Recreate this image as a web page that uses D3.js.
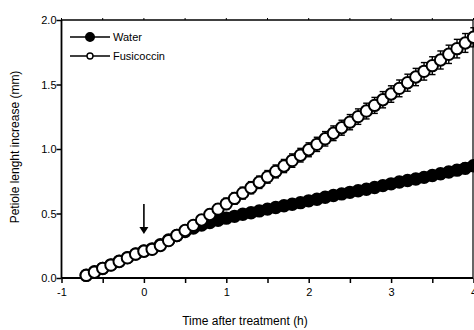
<!DOCTYPE html>
<html>
<head>
<meta charset="utf-8">
<script src="https://cdn.jsdelivr.net/npm/d3@7/dist/d3.min.js"></script>
<style>
  html, body { margin: 0; padding: 0; background: #fff; }
  svg { display: block; font-family: "Liberation Sans", Arial, sans-serif; }
</style>
</head>
<body>
<svg id="chart" width="474" height="330"></svg>
<script>
// Sampling times (minutes relative to treatment)
const timeMin = [-42,-36,-30,-24,-18,-12,-6,0,6,12,18,24,30,36,42,48,54,60,
  66,72,78,84,90,96,102,108,114,120,126,132,138,144,150,156,162,168,174,180,
  186,192,198,204,210,216,222,228,234,240];

// Mean petiole length increase (mm)
const waterMean = [0.022,0.048,0.074,0.102,0.130,0.158,0.186,0.210,0.226,0.258,0.294,0.330,0.360,0.388,0.410,0.430,0.448,0.464,
  0.478,0.494,0.506,0.520,0.534,0.546,0.560,0.572,0.584,0.598,0.610,0.626,0.640,0.652,0.664,0.676,0.688,0.702,0.716,0.730,
  0.744,0.756,0.768,0.780,0.794,0.808,0.822,0.836,0.850,0.870];
const fusiMean = [0.020,0.045,0.075,0.100,0.128,0.156,0.185,0.207,0.222,0.252,0.290,0.330,0.368,0.408,0.450,0.492,0.534,0.575,
  0.617,0.658,0.700,0.742,0.784,0.826,0.868,0.910,0.952,0.994,1.036,1.079,1.122,1.165,1.208,1.251,1.294,1.338,1.382,1.426,
  1.470,1.514,1.558,1.602,1.646,1.690,1.734,1.778,1.822,1.866];

// Standard errors (mm)
const waterErr = [0.008,0.009,0.010,0.011,0.012,0.013,0.014,0.015,0.016,0.017,0.018,0.019,0.020,0.021,0.022,0.023,0.024,0.025,
  0.026,0.026,0.027,0.027,0.028,0.028,0.029,0.029,0.030,0.030,0.031,0.031,0.032,0.032,0.033,0.033,0.034,0.034,0.035,0.035,
  0.036,0.036,0.037,0.037,0.038,0.038,0.039,0.039,0.040,0.040];
const fusiErr = [0.010,0.012,0.014,0.016,0.018,0.020,0.022,0.024,0.026,0.028,0.030,0.032,0.034,0.036,0.038,0.040,0.042,0.044,
  0.045,0.046,0.047,0.048,0.049,0.050,0.051,0.052,0.053,0.054,0.055,0.056,0.057,0.058,0.059,0.060,0.061,0.062,0.063,0.064,
  0.065,0.066,0.067,0.068,0.069,0.070,0.071,0.072,0.073,0.074];

const xTicks = [-1, 0, 1, 2, 3, 4];
const xMinorTicks = [-0.5, 0.5, 1.5, 2.5, 3.5];
const yTicks = [0, 0.5, 1.0, 1.5, 2.0];
const seriesNames = ["Water", "Fusicoccin"];
const treatmentTime = 0;

const svg = d3.select("#chart");
const plotL = 61.5, plotR = 473, plotT = 20, plotB = 278;

const x = d3.scaleLinear().domain([-1, 4]).range([plotL, plotR + 0.5]);
const y = d3.scaleLinear().domain([0, 2]).range([plotB, plotT]);

// Frame: top and right borders
svg.append("line").attr("x1", plotL).attr("x2", plotR).attr("y1", plotT).attr("y2", plotT)
  .attr("stroke", "#000").attr("stroke-width", 1.5);
svg.append("line").attr("x1", plotR).attr("x2", plotR).attr("y1", plotT).attr("y2", plotB)
  .attr("stroke", "#000").attr("stroke-width", 1.2);

// Small tick marks on the top border
svg.append("g").selectAll("line").data(xTicks.concat(xMinorTicks)).join("line")
  .attr("x1", d => x(d)).attr("x2", d => x(d)).attr("y1", plotT).attr("y2", plotT - 2)
  .attr("stroke", "#000").attr("stroke-width", 1);

// Bottom axis
const xAxis = svg.append("g").attr("transform", `translate(0,${plotB})`)
  .call(d3.axisBottom(x).tickValues(xTicks.concat(xMinorTicks)).tickSize(5)
    .tickFormat(d => Number.isInteger(d) ? String(d) : ""));
xAxis.select(".domain").attr("stroke-width", 1.8).attr("d", `M${plotL},0H${plotR}`);
xAxis.selectAll(".tick line").attr("stroke-width", 1.5);
xAxis.selectAll(".tick text").attr("font-size", 11).attr("font-family", "Liberation Sans, Arial, sans-serif").attr("dy", "0.95em");

// Left axis
const yAxis = svg.append("g").attr("transform", `translate(${plotL},0)`)
  .call(d3.axisLeft(y).tickValues(yTicks).tickSize(5).tickFormat(d3.format(".1f")));
yAxis.select(".domain").attr("stroke-width", 1.8).attr("d", `M0,${plotT}V${plotB}`);
yAxis.selectAll(".tick line").attr("stroke-width", 1.5);
yAxis.selectAll(".tick text").attr("font-size", 11).attr("font-family", "Liberation Sans, Arial, sans-serif").attr("x", -5);

// Axis titles
svg.append("text").attr("x", 245).attr("y", 325).attr("text-anchor", "middle")
  .attr("font-size", 12).text("Time after treatment (h)");
svg.append("text").attr("transform", `translate(19,${(plotT + plotB) / 2 - 2}) rotate(-90)`)
  .attr("text-anchor", "middle").attr("font-size", 12).text("Petiole lenght increase (mm)");

// Treatment arrow
const ax = x(treatmentTime);
svg.append("line").attr("x1", ax).attr("x2", ax).attr("y1", 204).attr("y2", 228)
  .attr("stroke", "#000").attr("stroke-width", 1.6);
svg.append("path").attr("d", `M${ax - 4.5},${227}L${ax + 4.5},${227}L${ax},${234}Z`).attr("fill", "#000");

// Series drawing
const rows = (means, errs) => timeMin.map((t, i) => ({ t: t / 60, m: means[i], e: errs[i] }));

function drawSeries(data, filled) {
  const g = svg.append("g");
  const bars = g.append("g").attr("stroke", "#000").attr("stroke-width", 1.4);
  bars.selectAll("line.v").data(data).join("line").attr("class", "v")
    .attr("x1", d => x(d.t)).attr("x2", d => x(d.t))
    .attr("y1", d => y(d.m - d.e)).attr("y2", d => y(d.m + d.e));
  bars.selectAll("line.hi").data(data).join("line").attr("class", "hi")
    .attr("x1", d => x(d.t) - 3.2).attr("x2", d => x(d.t) + 3.2)
    .attr("y1", d => y(d.m + d.e)).attr("y2", d => y(d.m + d.e));
  bars.selectAll("line.lo").data(data).join("line").attr("class", "lo")
    .attr("x1", d => x(d.t) - 3.2).attr("x2", d => x(d.t) + 3.2)
    .attr("y1", d => y(d.m - d.e)).attr("y2", d => y(d.m - d.e));
  g.selectAll("circle").data(data).join("circle")
    .attr("cx", d => x(d.t)).attr("cy", d => y(d.m)).attr("r", 5.7)
    .attr("fill", filled ? "#000" : "#fff").attr("stroke", "#000").attr("stroke-width", 2);
}

drawSeries(rows(waterMean, waterErr), true);
drawSeries(rows(fusiMean, fusiErr), false);

// Legend
const legend = svg.append("g");
seriesNames.forEach((name, i) => {
  const ly = 37 + i * 19;
  legend.append("line").attr("x1", 70).attr("x2", 110).attr("y1", ly).attr("y2", ly)
    .attr("stroke", "#000").attr("stroke-width", 1.5);
  legend.append("circle").attr("cx", 90).attr("cy", ly).attr("r", i === 0 ? 4.3 : 3)
    .attr("fill", i === 0 ? "#000" : "#fff").attr("stroke", "#000").attr("stroke-width", 1.4);
  legend.append("text").attr("x", 113).attr("y", ly + 4).attr("font-size", 11).text(name);
});
</script>
</body>
</html>
